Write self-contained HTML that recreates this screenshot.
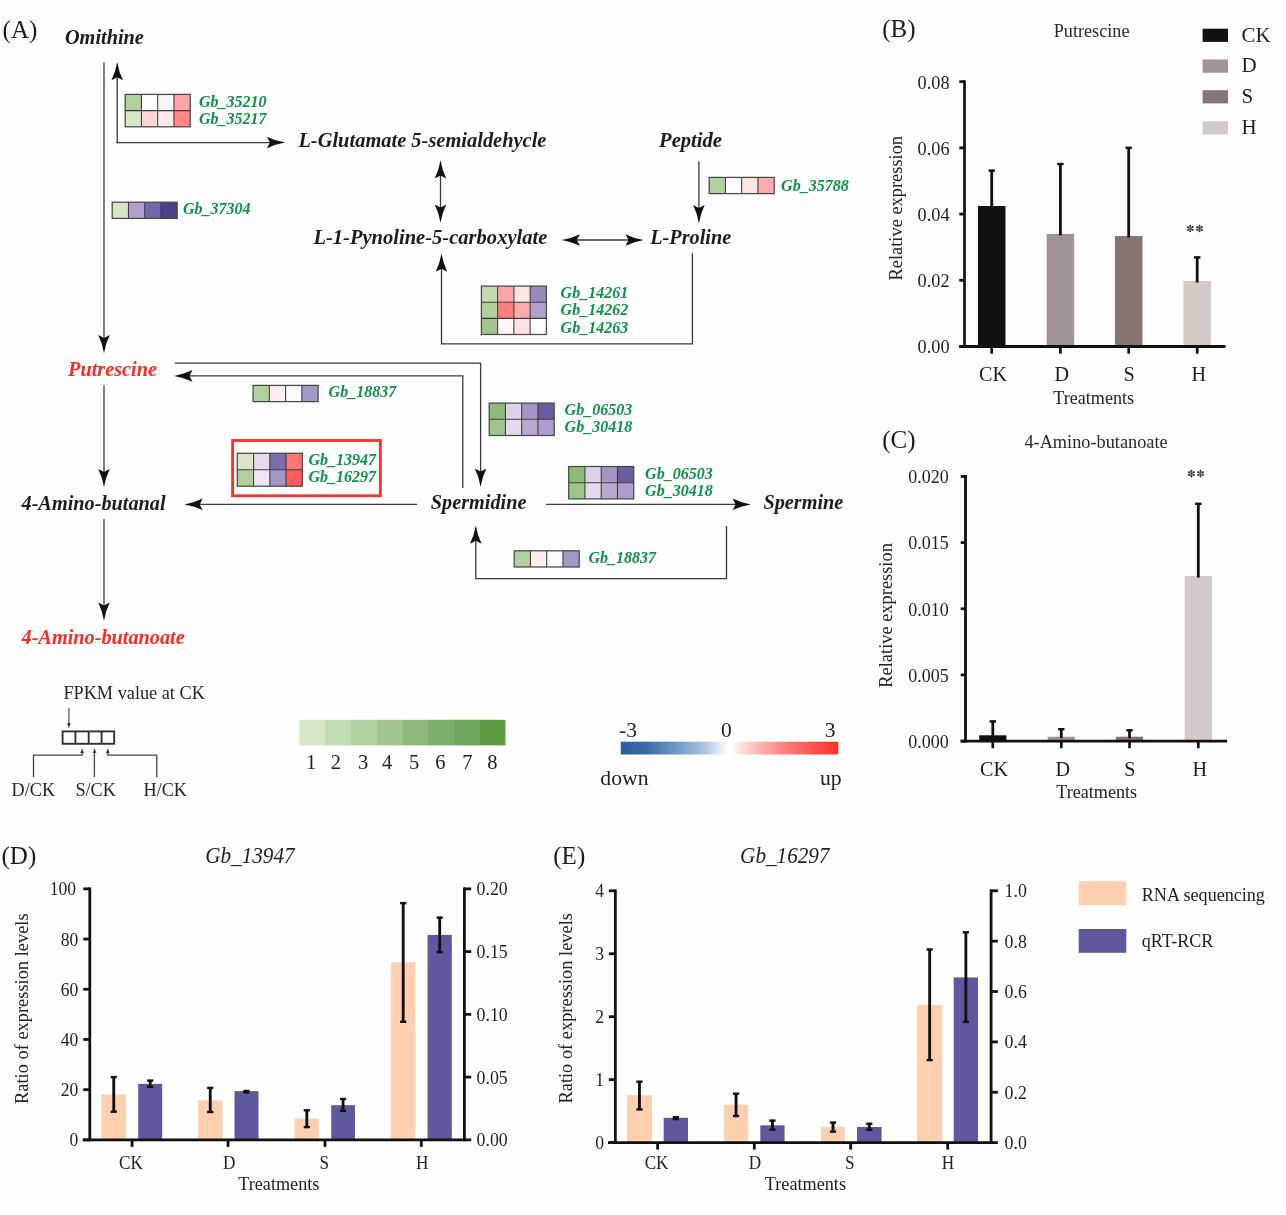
<!DOCTYPE html>
<html><head><meta charset="utf-8"><style>
html,body{margin:0;padding:0;background:#fefefe;}
svg{display:block;font-family:"Liberation Serif", serif;will-change:transform;}
</style></head><body>
<svg width="1286" height="1215" viewBox="0 0 1286 1215">
<rect width="1286" height="1215" fill="#fefefe"/>
<text x="2.6" y="37.9" font-size="25" font-weight="normal" font-style="normal" fill="#1c1c1c" text-anchor="start" >(A)</text>
<text x="65" y="43.8" font-size="20.25" font-weight="bold" font-style="italic" fill="#1c1c1c" text-anchor="start" >Omithine</text>
<line x1="104" y1="62.5" x2="104" y2="346" stroke="#3a3a3a" stroke-width="1.3"/>
<path d="M0,0 Q1.74,10.43 5.8,18.3 L0,15.3 L-5.8,18.3 Q-1.74,10.43 0,0 Z" fill="#111" transform="translate(104.0,353.2) rotate(180)"/>
<line x1="117.2" y1="143.3" x2="117.2" y2="70" stroke="#3a3a3a" stroke-width="1.3"/>
<path d="M0,0 Q1.74,10.43 5.8,18.3 L0,15.3 L-5.8,18.3 Q-1.74,10.43 0,0 Z" fill="#111" transform="translate(117.2,62.0) rotate(0)"/>
<line x1="116.5" y1="142.6" x2="278" y2="142.6" stroke="#3a3a3a" stroke-width="1.3"/>
<path d="M0,0 Q1.74,10.43 5.8,18.3 L0,15.3 L-5.8,18.3 Q-1.74,10.43 0,0 Z" fill="#111" transform="translate(285.2,142.6) rotate(90)"/>
<rect x="125.2" y="94.4" width="16.25" height="16.2" fill="#b0d09c" />
<rect x="141.45" y="94.4" width="16.25" height="16.2" fill="#fefcfd" />
<rect x="157.7" y="94.4" width="16.25" height="16.2" fill="#f8f3f8" />
<rect x="173.95" y="94.4" width="16.25" height="16.2" fill="#fea5a3" />
<rect x="125.2" y="110.6" width="16.25" height="16.2" fill="#d9e6c6" />
<rect x="141.45" y="110.6" width="16.25" height="16.2" fill="#fed4d5" />
<rect x="157.7" y="110.6" width="16.25" height="16.2" fill="#feeaea" />
<rect x="173.95" y="110.6" width="16.25" height="16.2" fill="#fe8988" />
<line x1="141.45" y1="94.4" x2="141.45" y2="126.8" stroke="#3a3a3a" stroke-width="1.05"/>
<line x1="157.7" y1="94.4" x2="157.7" y2="126.8" stroke="#3a3a3a" stroke-width="1.05"/>
<line x1="173.95" y1="94.4" x2="173.95" y2="126.8" stroke="#3a3a3a" stroke-width="1.05"/>
<line x1="125.2" y1="110.6" x2="190.2" y2="110.6" stroke="#3a3a3a" stroke-width="1.05"/>
<rect x="125.2" y="94.4" width="65.0" height="32.4" fill="none" stroke="#484848" stroke-width="1.25"/>
<text x="199" y="107.1" font-size="16" font-weight="bold" font-style="italic" fill="#0a9447" text-anchor="start" >Gb_35210</text>
<text x="199" y="123.9" font-size="16" font-weight="bold" font-style="italic" fill="#0a9447" text-anchor="start" >Gb_35217</text>
<rect x="112.2" y="202.2" width="16.25" height="16.2" fill="#d6e6c5" />
<rect x="128.45" y="202.2" width="16.25" height="16.2" fill="#b0a0cc" />
<rect x="144.7" y="202.2" width="16.25" height="16.2" fill="#7466a8" />
<rect x="160.95" y="202.2" width="16.25" height="16.2" fill="#4f3f8a" />
<line x1="128.45" y1="202.2" x2="128.45" y2="218.4" stroke="#3a3a3a" stroke-width="1.05"/>
<line x1="144.7" y1="202.2" x2="144.7" y2="218.4" stroke="#3a3a3a" stroke-width="1.05"/>
<line x1="160.95" y1="202.2" x2="160.95" y2="218.4" stroke="#3a3a3a" stroke-width="1.05"/>
<rect x="112.2" y="202.2" width="65.0" height="16.2" fill="none" stroke="#484848" stroke-width="1.25"/>
<text x="182.9" y="214.1" font-size="16" font-weight="bold" font-style="italic" fill="#0a9447" text-anchor="start" >Gb_37304</text>
<text x="298.4" y="147.4" font-size="20.45" font-weight="bold" font-style="italic" fill="#1c1c1c" text-anchor="start" >L-Glutamate 5-semialdehycle</text>
<line x1="440.5" y1="168" x2="440.5" y2="216" stroke="#3a3a3a" stroke-width="1.3"/>
<path d="M0,0 Q1.74,10.43 5.8,18.3 L0,15.3 L-5.8,18.3 Q-1.74,10.43 0,0 Z" fill="#111" transform="translate(440.5,160.2) rotate(0)"/>
<path d="M0,0 Q1.74,10.43 5.8,18.3 L0,15.3 L-5.8,18.3 Q-1.74,10.43 0,0 Z" fill="#111" transform="translate(440.5,222.8) rotate(180)"/>
<text x="313.4" y="243.8" font-size="20.55" font-weight="bold" font-style="italic" fill="#1c1c1c" text-anchor="start" >L-1-Pynoline-5-carboxylate</text>
<text x="659.1" y="147.4" font-size="20.6" font-weight="bold" font-style="italic" fill="#1c1c1c" text-anchor="start" >Peptide</text>
<line x1="698.9" y1="161.2" x2="698.9" y2="216" stroke="#3a3a3a" stroke-width="1.3"/>
<path d="M0,0 Q1.74,10.43 5.8,18.3 L0,15.3 L-5.8,18.3 Q-1.74,10.43 0,0 Z" fill="#111" transform="translate(698.9,223.4) rotate(180)"/>
<rect x="709.2" y="177.4" width="16.25" height="16.2" fill="#b0d09c" />
<rect x="725.45" y="177.4" width="16.25" height="16.2" fill="#fefefe" />
<rect x="741.7" y="177.4" width="16.25" height="16.2" fill="#fee6e8" />
<rect x="757.95" y="177.4" width="16.25" height="16.2" fill="#feabab" />
<line x1="725.45" y1="177.4" x2="725.45" y2="193.6" stroke="#3a3a3a" stroke-width="1.05"/>
<line x1="741.7" y1="177.4" x2="741.7" y2="193.6" stroke="#3a3a3a" stroke-width="1.05"/>
<line x1="757.95" y1="177.4" x2="757.95" y2="193.6" stroke="#3a3a3a" stroke-width="1.05"/>
<rect x="709.2" y="177.4" width="65.0" height="16.2" fill="none" stroke="#484848" stroke-width="1.25"/>
<text x="781.1" y="190.6" font-size="16" font-weight="bold" font-style="italic" fill="#0a9447" text-anchor="start" >Gb_35788</text>
<text x="650.2" y="243.8" font-size="20.25" font-weight="bold" font-style="italic" fill="#1c1c1c" text-anchor="start" >L-Proline</text>
<line x1="570" y1="240" x2="636" y2="240" stroke="#3a3a3a" stroke-width="1.3"/>
<path d="M0,0 Q1.74,10.43 5.8,18.3 L0,15.3 L-5.8,18.3 Q-1.74,10.43 0,0 Z" fill="#111" transform="translate(561.6,240.0) rotate(-90)"/>
<path d="M0,0 Q1.74,10.43 5.8,18.3 L0,15.3 L-5.8,18.3 Q-1.74,10.43 0,0 Z" fill="#111" transform="translate(643.8,240.0) rotate(90)"/>
<path d="M692.4,253.2 V343.8 H441.5 V262" stroke="#3a3a3a" stroke-width="1.3" fill="none" />
<path d="M0,0 Q1.74,10.43 5.8,18.3 L0,15.3 L-5.8,18.3 Q-1.74,10.43 0,0 Z" fill="#111" transform="translate(441.5,253.4) rotate(0)"/>
<rect x="481.4" y="286.1" width="16.25" height="16.13" fill="#c2dab2" />
<rect x="497.65" y="286.1" width="16.25" height="16.13" fill="#fea6a6" />
<rect x="513.9" y="286.1" width="16.25" height="16.13" fill="#fee5e6" />
<rect x="530.15" y="286.1" width="16.25" height="16.13" fill="#9689bf" />
<rect x="481.4" y="302.23" width="16.25" height="16.13" fill="#afcf9c" />
<rect x="497.65" y="302.23" width="16.25" height="16.13" fill="#fe7e7e" />
<rect x="513.9" y="302.23" width="16.25" height="16.13" fill="#feacab" />
<rect x="530.15" y="302.23" width="16.25" height="16.13" fill="#afa0cc" />
<rect x="481.4" y="318.36" width="16.25" height="16.13" fill="#a0c48b" />
<rect x="497.65" y="318.36" width="16.25" height="16.13" fill="#fef8f8" />
<rect x="513.9" y="318.36" width="16.25" height="16.13" fill="#fee1e3" />
<rect x="530.15" y="318.36" width="16.25" height="16.13" fill="#ffffff" />
<line x1="497.65" y1="286.1" x2="497.65" y2="334.49" stroke="#3a3a3a" stroke-width="1.05"/>
<line x1="513.9" y1="286.1" x2="513.9" y2="334.49" stroke="#3a3a3a" stroke-width="1.05"/>
<line x1="530.15" y1="286.1" x2="530.15" y2="334.49" stroke="#3a3a3a" stroke-width="1.05"/>
<line x1="481.4" y1="302.23" x2="546.4" y2="302.23" stroke="#3a3a3a" stroke-width="1.05"/>
<line x1="481.4" y1="318.36" x2="546.4" y2="318.36" stroke="#3a3a3a" stroke-width="1.05"/>
<rect x="481.4" y="286.1" width="65.0" height="48.39" fill="none" stroke="#484848" stroke-width="1.25"/>
<text x="560.6" y="297.8" font-size="16" font-weight="bold" font-style="italic" fill="#0a9447" text-anchor="start" >Gb_14261</text>
<text x="560.6" y="315.3" font-size="16" font-weight="bold" font-style="italic" fill="#0a9447" text-anchor="start" >Gb_14262</text>
<text x="560.6" y="332.8" font-size="16" font-weight="bold" font-style="italic" fill="#0a9447" text-anchor="start" >Gb_14263</text>
<text x="68.1" y="375.9" font-size="20.25" font-weight="bold" font-style="italic" fill="#fd2b22" text-anchor="start" >Putrescine</text>
<line x1="104" y1="385.3" x2="104" y2="480" stroke="#3a3a3a" stroke-width="1.3"/>
<path d="M0,0 Q1.74,10.43 5.8,18.3 L0,15.3 L-5.8,18.3 Q-1.74,10.43 0,0 Z" fill="#111" transform="translate(104.0,487.3) rotate(180)"/>
<path d="M174.8,363.1 H480.6 V480" stroke="#3a3a3a" stroke-width="1.3" fill="none" />
<path d="M0,0 Q1.74,10.43 5.8,18.3 L0,15.3 L-5.8,18.3 Q-1.74,10.43 0,0 Z" fill="#111" transform="translate(480.6,486.9) rotate(180)"/>
<path d="M462.8,488 V375.9 H181" stroke="#3a3a3a" stroke-width="1.3" fill="none" />
<path d="M0,0 Q1.74,10.43 5.8,18.3 L0,15.3 L-5.8,18.3 Q-1.74,10.43 0,0 Z" fill="#111" transform="translate(174.2,375.9) rotate(-90)"/>
<rect x="253.1" y="385.4" width="16.25" height="16.2" fill="#b1d29e" />
<rect x="269.35" y="385.4" width="16.25" height="16.2" fill="#fdeeee" />
<rect x="285.6" y="385.4" width="16.25" height="16.2" fill="#fafafa" />
<rect x="301.85" y="385.4" width="16.25" height="16.2" fill="#a598c8" />
<line x1="269.35" y1="385.4" x2="269.35" y2="401.6" stroke="#3a3a3a" stroke-width="1.05"/>
<line x1="285.6" y1="385.4" x2="285.6" y2="401.6" stroke="#3a3a3a" stroke-width="1.05"/>
<line x1="301.85" y1="385.4" x2="301.85" y2="401.6" stroke="#3a3a3a" stroke-width="1.05"/>
<rect x="253.1" y="385.4" width="65.0" height="16.2" fill="none" stroke="#484848" stroke-width="1.25"/>
<text x="328.6" y="396.9" font-size="16" font-weight="bold" font-style="italic" fill="#0a9447" text-anchor="start" >Gb_18837</text>
<rect x="489.2" y="403.1" width="16.25" height="16.2" fill="#8cbb7a" />
<rect x="505.45" y="403.1" width="16.25" height="16.2" fill="#ddd0e7" />
<rect x="521.7" y="403.1" width="16.25" height="16.2" fill="#a494c6" />
<rect x="537.95" y="403.1" width="16.25" height="16.2" fill="#6a5c9f" />
<rect x="489.2" y="419.3" width="16.25" height="16.2" fill="#9ec58b" />
<rect x="505.45" y="419.3" width="16.25" height="16.2" fill="#e4d8ec" />
<rect x="521.7" y="419.3" width="16.25" height="16.2" fill="#b6a9d2" />
<rect x="537.95" y="419.3" width="16.25" height="16.2" fill="#ae9dcc" />
<line x1="505.45" y1="403.1" x2="505.45" y2="435.5" stroke="#3a3a3a" stroke-width="1.05"/>
<line x1="521.7" y1="403.1" x2="521.7" y2="435.5" stroke="#3a3a3a" stroke-width="1.05"/>
<line x1="537.95" y1="403.1" x2="537.95" y2="435.5" stroke="#3a3a3a" stroke-width="1.05"/>
<line x1="489.2" y1="419.3" x2="554.2" y2="419.3" stroke="#3a3a3a" stroke-width="1.05"/>
<rect x="489.2" y="403.1" width="65.0" height="32.4" fill="none" stroke="#484848" stroke-width="1.25"/>
<text x="564.6" y="414.6" font-size="16" font-weight="bold" font-style="italic" fill="#0a9447" text-anchor="start" >Gb_06503</text>
<text x="564.6" y="432.0" font-size="16" font-weight="bold" font-style="italic" fill="#0a9447" text-anchor="start" >Gb_30418</text>
<text x="430.8" y="508.5" font-size="20.25" font-weight="bold" font-style="italic" fill="#1c1c1c" text-anchor="start" >Spermidine</text>
<rect x="232.6" y="440.5" width="147.8" height="55.3" fill="none" stroke="#f7312c" stroke-width="2.8"/>
<rect x="237.3" y="453.3" width="16.25" height="16.45" fill="#d9e6c6" />
<rect x="253.55" y="453.3" width="16.25" height="16.45" fill="#e6d9ea" />
<rect x="269.8" y="453.3" width="16.25" height="16.45" fill="#7b6eaa" />
<rect x="286.05" y="453.3" width="16.25" height="16.45" fill="#ff7774" />
<rect x="237.3" y="469.75" width="16.25" height="16.45" fill="#b0d09c" />
<rect x="253.55" y="469.75" width="16.25" height="16.45" fill="#efe6f3" />
<rect x="269.8" y="469.75" width="16.25" height="16.45" fill="#a395c4" />
<rect x="286.05" y="469.75" width="16.25" height="16.45" fill="#ff5b5b" />
<line x1="253.55" y1="453.3" x2="253.55" y2="486.2" stroke="#3a3a3a" stroke-width="1.05"/>
<line x1="269.8" y1="453.3" x2="269.8" y2="486.2" stroke="#3a3a3a" stroke-width="1.05"/>
<line x1="286.05" y1="453.3" x2="286.05" y2="486.2" stroke="#3a3a3a" stroke-width="1.05"/>
<line x1="237.3" y1="469.75" x2="302.3" y2="469.75" stroke="#3a3a3a" stroke-width="1.05"/>
<rect x="237.3" y="453.3" width="65.0" height="32.9" fill="none" stroke="#484848" stroke-width="1.25"/>
<text x="308.5" y="465.0" font-size="16" font-weight="bold" font-style="italic" fill="#0a9447" text-anchor="start" >Gb_13947</text>
<text x="308.5" y="482.4" font-size="16" font-weight="bold" font-style="italic" fill="#0a9447" text-anchor="start" >Gb_16297</text>
<line x1="417" y1="504.4" x2="191" y2="504.4" stroke="#3a3a3a" stroke-width="1.3"/>
<path d="M0,0 Q1.74,10.43 5.8,18.3 L0,15.3 L-5.8,18.3 Q-1.74,10.43 0,0 Z" fill="#111" transform="translate(184.4,504.4) rotate(-90)"/>
<text x="21.5" y="509.6" font-size="20.25" font-weight="bold" font-style="italic" fill="#1c1c1c" text-anchor="start" >4-Amino-butanal</text>
<line x1="104" y1="519" x2="104" y2="613" stroke="#3a3a3a" stroke-width="1.3"/>
<path d="M0,0 Q1.74,10.43 5.8,18.3 L0,15.3 L-5.8,18.3 Q-1.74,10.43 0,0 Z" fill="#111" transform="translate(104.0,620.7) rotate(180)"/>
<text x="21.5" y="644.3" font-size="20.25" font-weight="bold" font-style="italic" fill="#fd2b22" text-anchor="start" >4-Amino-butanoate</text>
<line x1="546" y1="504.4" x2="744" y2="504.4" stroke="#3a3a3a" stroke-width="1.3"/>
<path d="M0,0 Q1.74,10.43 5.8,18.3 L0,15.3 L-5.8,18.3 Q-1.74,10.43 0,0 Z" fill="#111" transform="translate(750.9,504.4) rotate(90)"/>
<rect x="568.7" y="466.5" width="16.25" height="16.2" fill="#8cbb7a" />
<rect x="584.95" y="466.5" width="16.25" height="16.2" fill="#ddd0e7" />
<rect x="601.2" y="466.5" width="16.25" height="16.2" fill="#a494c6" />
<rect x="617.45" y="466.5" width="16.25" height="16.2" fill="#6a5c9f" />
<rect x="568.7" y="482.7" width="16.25" height="16.2" fill="#9ec58b" />
<rect x="584.95" y="482.7" width="16.25" height="16.2" fill="#e4d8ec" />
<rect x="601.2" y="482.7" width="16.25" height="16.2" fill="#b6a9d2" />
<rect x="617.45" y="482.7" width="16.25" height="16.2" fill="#ae9dcc" />
<line x1="584.95" y1="466.5" x2="584.95" y2="498.9" stroke="#3a3a3a" stroke-width="1.05"/>
<line x1="601.2" y1="466.5" x2="601.2" y2="498.9" stroke="#3a3a3a" stroke-width="1.05"/>
<line x1="617.45" y1="466.5" x2="617.45" y2="498.9" stroke="#3a3a3a" stroke-width="1.05"/>
<line x1="568.7" y1="482.7" x2="633.7" y2="482.7" stroke="#3a3a3a" stroke-width="1.05"/>
<rect x="568.7" y="466.5" width="65.0" height="32.4" fill="none" stroke="#484848" stroke-width="1.25"/>
<text x="645.1" y="478.5" font-size="16" font-weight="bold" font-style="italic" fill="#0a9447" text-anchor="start" >Gb_06503</text>
<text x="645.1" y="496.3" font-size="16" font-weight="bold" font-style="italic" fill="#0a9447" text-anchor="start" >Gb_30418</text>
<text x="763.4" y="509.1" font-size="20.25" font-weight="bold" font-style="italic" fill="#1c1c1c" text-anchor="start" >Spermine</text>
<path d="M726.5,526.1 V578.6 H475.8 V533" stroke="#3a3a3a" stroke-width="1.3" fill="none" />
<path d="M0,0 Q1.74,10.43 5.8,18.3 L0,15.3 L-5.8,18.3 Q-1.74,10.43 0,0 Z" fill="#111" transform="translate(475.8,525.5) rotate(0)"/>
<rect x="514.2" y="550.8" width="16.25" height="16.2" fill="#b1d29e" />
<rect x="530.45" y="550.8" width="16.25" height="16.2" fill="#fdeeee" />
<rect x="546.7" y="550.8" width="16.25" height="16.2" fill="#fafafa" />
<rect x="562.95" y="550.8" width="16.25" height="16.2" fill="#a598c8" />
<line x1="530.45" y1="550.8" x2="530.45" y2="567.0" stroke="#3a3a3a" stroke-width="1.05"/>
<line x1="546.7" y1="550.8" x2="546.7" y2="567.0" stroke="#3a3a3a" stroke-width="1.05"/>
<line x1="562.95" y1="550.8" x2="562.95" y2="567.0" stroke="#3a3a3a" stroke-width="1.05"/>
<rect x="514.2" y="550.8" width="65.0" height="16.2" fill="none" stroke="#484848" stroke-width="1.25"/>
<text x="588.5" y="562.5" font-size="16" font-weight="bold" font-style="italic" fill="#0a9447" text-anchor="start" >Gb_18837</text>
<text x="63.4" y="698.8" font-size="18.25" font-weight="normal" font-style="normal" fill="#2a2020" text-anchor="start" >FPKM value at CK</text>
<line x1="68.9" y1="707.8" x2="68.9" y2="724" stroke="#5a4c48" stroke-width="1.2"/>
<path d="M0,0 Q0.57,3.13 1.9,5.5 L0,5.1 L-1.9,5.5 Q-0.57,3.13 0,0 Z" fill="#2e2222" transform="translate(68.9,728.7) rotate(180)"/>
<rect x="62.6" y="731.4" width="51.6" height="12.4" fill="none" stroke="#3b2e2e" stroke-width="1.9"/>
<line x1="75.4" y1="731.4" x2="75.4" y2="743.8" stroke="#3b2e2e" stroke-width="1.9"/>
<line x1="88.7" y1="731.4" x2="88.7" y2="743.8" stroke="#3b2e2e" stroke-width="1.9"/>
<line x1="101.6" y1="731.4" x2="101.6" y2="743.8" stroke="#3b2e2e" stroke-width="1.9"/>
<path d="M33.5,777.2 V755.1 H82.1 V752" stroke="#4e403c" stroke-width="1.3" fill="none" />
<path d="M0,0 Q0.57,2.85 1.9,5 L0,4.6 L-1.9,5 Q-0.57,2.85 0,0 Z" fill="#2e2222" transform="translate(82.1,748.1) rotate(0)"/>
<path d="M94.4,777.2 V752" stroke="#4e403c" stroke-width="1.3" fill="none" />
<path d="M0,0 Q0.57,2.85 1.9,5 L0,4.6 L-1.9,5 Q-0.57,2.85 0,0 Z" fill="#2e2222" transform="translate(94.6,748.1) rotate(0)"/>
<path d="M156.8,777.2 V755.1 H107.8 V752" stroke="#4e403c" stroke-width="1.3" fill="none" />
<path d="M0,0 Q0.57,2.85 1.9,5 L0,4.6 L-1.9,5 Q-0.57,2.85 0,0 Z" fill="#2e2222" transform="translate(107.8,748.1) rotate(0)"/>
<text x="11.6" y="796.3" font-size="18.2" font-weight="normal" font-style="normal" fill="#2a2020" text-anchor="start" >D/CK</text>
<text x="75.4" y="796.3" font-size="18.2" font-weight="normal" font-style="normal" fill="#2a2020" text-anchor="start" >S/CK</text>
<text x="143.5" y="796.3" font-size="18.2" font-weight="normal" font-style="normal" fill="#2a2020" text-anchor="start" >H/CK</text>
<rect x="299.3" y="719.8" width="26.02" height="25.6" fill="#d8e6c8" />
<text x="0" y="0" transform="translate(311.2,769.0) scale(1,1.04)" font-size="20.5" font-weight="normal" font-style="normal" fill="#222" text-anchor="middle" >1</text>
<rect x="325.02" y="719.8" width="26.02" height="25.6" fill="#c2dcb3" />
<text x="0" y="0" transform="translate(335.8,769.0) scale(1,1.04)" font-size="20.5" font-weight="normal" font-style="normal" fill="#222" text-anchor="middle" >2</text>
<rect x="350.74" y="719.8" width="26.02" height="25.6" fill="#afd09f" />
<text x="0" y="0" transform="translate(363.0,769.0) scale(1,1.04)" font-size="20.5" font-weight="normal" font-style="normal" fill="#222" text-anchor="middle" >3</text>
<rect x="376.46" y="719.8" width="26.02" height="25.6" fill="#a0c68e" />
<text x="0" y="0" transform="translate(387.1,769.0) scale(1,1.04)" font-size="20.5" font-weight="normal" font-style="normal" fill="#222" text-anchor="middle" >4</text>
<rect x="402.18" y="719.8" width="26.02" height="25.6" fill="#8bba7c" />
<text x="0" y="0" transform="translate(414.2,769.0) scale(1,1.04)" font-size="20.5" font-weight="normal" font-style="normal" fill="#222" text-anchor="middle" >5</text>
<rect x="427.9" y="719.8" width="26.02" height="25.6" fill="#7bb06b" />
<text x="0" y="0" transform="translate(440.3,769.0) scale(1,1.04)" font-size="20.5" font-weight="normal" font-style="normal" fill="#222" text-anchor="middle" >6</text>
<rect x="453.62" y="719.8" width="26.02" height="25.6" fill="#6da85c" />
<text x="0" y="0" transform="translate(467.3,769.0) scale(1,1.04)" font-size="20.5" font-weight="normal" font-style="normal" fill="#222" text-anchor="middle" >7</text>
<rect x="479.34" y="719.8" width="26.16" height="25.6" fill="#5f9b43" />
<text x="0" y="0" transform="translate(492.4,769.0) scale(1,1.04)" font-size="20.5" font-weight="normal" font-style="normal" fill="#222" text-anchor="middle" >8</text>
<defs><linearGradient id="rb" x1="0" x2="1" y1="0" y2="0">
<stop offset="0" stop-color="#2c5a9e"/><stop offset="0.12" stop-color="#3b6dab"/><stop offset="0.25" stop-color="#6a98c6"/>
<stop offset="0.38" stop-color="#a9c1dd"/><stop offset="0.47" stop-color="#eef2f8"/><stop offset="0.5" stop-color="#ffffff"/>
<stop offset="0.53" stop-color="#ffeeee"/><stop offset="0.62" stop-color="#ffbcbc"/><stop offset="0.75" stop-color="#ff8080"/>
<stop offset="0.88" stop-color="#ff5350"/><stop offset="1" stop-color="#ff3226"/></linearGradient></defs>
<rect x="620.8" y="741.7" width="217.4" height="12.8" fill="url(#rb)" />
<text x="619.0" y="736.9" font-size="21.5" font-weight="normal" font-style="normal" fill="#222" text-anchor="start" >-3</text>
<text x="726.3" y="736.9" font-size="21.5" font-weight="normal" font-style="normal" fill="#222" text-anchor="middle" >0</text>
<text x="830.1" y="736.9" font-size="21.5" font-weight="normal" font-style="normal" fill="#222" text-anchor="middle" >3</text>
<text x="600.3" y="784.5" font-size="21.7" font-weight="normal" font-style="normal" fill="#222" text-anchor="start" >down</text>
<text x="841.6" y="784.5" font-size="21.7" font-weight="normal" font-style="normal" fill="#222" text-anchor="end" >up</text>
<text x="882.3" y="36.8" font-size="25" font-weight="normal" font-style="normal" fill="#1c1c1c" text-anchor="start" >(B)</text>
<text x="0" y="0" transform="translate(1091.6,37.4) scale(1,1.06)" font-size="18.2" font-weight="normal" font-style="normal" fill="#2a2a2a" text-anchor="middle" >Putrescine</text>
<rect x="1202.6" y="28.7" width="25.4" height="13.2" fill="#111111" />
<text x="1241.4" y="41.5" font-size="21.0" font-weight="normal" font-style="normal" fill="#1c1c1c" text-anchor="start" >CK</text>
<rect x="1202.6" y="59.5" width="25.4" height="13.2" fill="#a09494" />
<text x="1241.4" y="72.3" font-size="21.0" font-weight="normal" font-style="normal" fill="#1c1c1c" text-anchor="start" >D</text>
<rect x="1202.6" y="90.2" width="25.4" height="13.2" fill="#877573" />
<text x="1241.4" y="103.0" font-size="21.0" font-weight="normal" font-style="normal" fill="#1c1c1c" text-anchor="start" >S</text>
<rect x="1202.6" y="121.3" width="25.4" height="13.2" fill="#d5c9c6" />
<text x="1241.4" y="134.1" font-size="21.0" font-weight="normal" font-style="normal" fill="#1c1c1c" text-anchor="start" >H</text>
<line x1="959.3" y1="346.5" x2="964.5" y2="346.5" stroke="#111" stroke-width="2.8"/>
<text x="0" y="0" transform="translate(949.6,353.4) scale(1,1.08)" font-size="18.3" font-weight="normal" font-style="normal" fill="#222" text-anchor="end" >0.00</text>
<line x1="959.3" y1="280.29" x2="964.5" y2="280.29" stroke="#111" stroke-width="2.8"/>
<text x="0" y="0" transform="translate(949.6,287.19) scale(1,1.08)" font-size="18.3" font-weight="normal" font-style="normal" fill="#222" text-anchor="end" >0.02</text>
<line x1="959.3" y1="214.07" x2="964.5" y2="214.07" stroke="#111" stroke-width="2.8"/>
<text x="0" y="0" transform="translate(949.6,220.97) scale(1,1.08)" font-size="18.3" font-weight="normal" font-style="normal" fill="#222" text-anchor="end" >0.04</text>
<line x1="959.3" y1="147.86" x2="964.5" y2="147.86" stroke="#111" stroke-width="2.8"/>
<text x="0" y="0" transform="translate(949.6,154.76) scale(1,1.08)" font-size="18.3" font-weight="normal" font-style="normal" fill="#222" text-anchor="end" >0.06</text>
<line x1="959.3" y1="81.65" x2="964.5" y2="81.65" stroke="#111" stroke-width="2.8"/>
<text x="0" y="0" transform="translate(949.6,88.55) scale(1,1.08)" font-size="18.3" font-weight="normal" font-style="normal" fill="#222" text-anchor="end" >0.08</text>
<rect x="977.95" y="206.0" width="27.5" height="140.5" fill="#111111" />
<line x1="991.7" y1="169.9" x2="991.7" y2="207.5" stroke="#111" stroke-width="2.8"/>
<rect x="988.5" y="169.4" width="6.4" height="2.4" fill="#111" />
<line x1="991.7" y1="346.5" x2="991.7" y2="353.7" stroke="#111" stroke-width="2.7"/>
<rect x="1046.65" y="233.9" width="27.5" height="112.6" fill="#a09494" />
<line x1="1060.4" y1="163.3" x2="1060.4" y2="235.4" stroke="#111" stroke-width="2.8"/>
<rect x="1057.2" y="162.8" width="6.4" height="2.4" fill="#111" />
<line x1="1060.4" y1="346.5" x2="1060.4" y2="353.7" stroke="#111" stroke-width="2.7"/>
<rect x="1114.95" y="236.0" width="27.5" height="110.5" fill="#877573" />
<line x1="1128.7" y1="147.1" x2="1128.7" y2="237.5" stroke="#111" stroke-width="2.8"/>
<rect x="1125.5" y="146.6" width="6.4" height="2.4" fill="#111" />
<line x1="1128.7" y1="346.5" x2="1128.7" y2="353.7" stroke="#111" stroke-width="2.7"/>
<rect x="1183.45" y="281.0" width="27.5" height="65.5" fill="#d5c9c6" />
<line x1="1197.2" y1="256.7" x2="1197.2" y2="282.5" stroke="#111" stroke-width="2.8"/>
<rect x="1194.0" y="256.2" width="6.4" height="2.4" fill="#111" />
<line x1="1197.2" y1="346.5" x2="1197.2" y2="353.7" stroke="#111" stroke-width="2.7"/>
<line x1="964.5" y1="80.2" x2="964.5" y2="347.9" stroke="#111" stroke-width="2.7"/>
<line x1="959.4" y1="346.5" x2="1225.6" y2="346.5" stroke="#111" stroke-width="2.9"/>
<text x="0" y="0" transform="translate(993.0,380.7) scale(1,1.035)" font-size="20.2" font-weight="normal" font-style="normal" fill="#1c1c1c" text-anchor="middle" >CK</text>
<text x="0" y="0" transform="translate(1061.8,380.7) scale(1,1.035)" font-size="20.2" font-weight="normal" font-style="normal" fill="#1c1c1c" text-anchor="middle" >D</text>
<text x="0" y="0" transform="translate(1129.1,380.7) scale(1,1.035)" font-size="20.2" font-weight="normal" font-style="normal" fill="#1c1c1c" text-anchor="middle" >S</text>
<text x="0" y="0" transform="translate(1198.7,380.7) scale(1,1.035)" font-size="20.2" font-weight="normal" font-style="normal" fill="#1c1c1c" text-anchor="middle" >H</text>
<text x="0" y="0" transform="translate(1093.7,404.2) scale(1,1.06)" font-size="18.1" font-weight="normal" font-style="normal" fill="#222" text-anchor="middle" >Treatments</text>
<text x="0" y="0" font-size="18.4" fill="#222" text-anchor="middle" transform="translate(901.9,208.2) rotate(-90) scale(1.0,1)">Relative expression</text>
<path d="M1190.05,228.45 L1189.35,231.3 L1191.25,231.3 L1190.55,228.45 Z" fill="#333" fill-opacity="0.85"/>
<circle cx="1190.3" cy="231.3" r="0.95" fill="#333"/>
<path d="M1190.17,228.23 L1187.36,229.05 L1188.31,230.7 L1190.42,228.67 Z" fill="#333" fill-opacity="0.85"/>
<circle cx="1187.83" cy="229.88" r="0.95" fill="#333"/>
<path d="M1190.42,228.23 L1188.31,226.2 L1187.36,227.85 L1190.17,228.67 Z" fill="#333" fill-opacity="0.85"/>
<circle cx="1187.83" cy="227.02" r="0.95" fill="#333"/>
<path d="M1190.55,228.45 L1191.25,225.6 L1189.35,225.6 L1190.05,228.45 Z" fill="#333" fill-opacity="0.85"/>
<circle cx="1190.3" cy="225.6" r="0.95" fill="#333"/>
<path d="M1190.42,228.67 L1193.24,227.85 L1192.29,226.2 L1190.17,228.23 Z" fill="#333" fill-opacity="0.85"/>
<circle cx="1192.77" cy="227.02" r="0.95" fill="#333"/>
<path d="M1190.17,228.67 L1192.29,230.7 L1193.24,229.05 L1190.42,228.23 Z" fill="#333" fill-opacity="0.85"/>
<circle cx="1192.77" cy="229.88" r="0.95" fill="#333"/>
<path d="M1199.25,228.45 L1198.55,231.3 L1200.45,231.3 L1199.75,228.45 Z" fill="#333" fill-opacity="0.85"/>
<circle cx="1199.5" cy="231.3" r="0.95" fill="#333"/>
<path d="M1199.38,228.23 L1196.56,229.05 L1197.51,230.7 L1199.62,228.67 Z" fill="#333" fill-opacity="0.85"/>
<circle cx="1197.03" cy="229.88" r="0.95" fill="#333"/>
<path d="M1199.62,228.23 L1197.51,226.2 L1196.56,227.85 L1199.38,228.67 Z" fill="#333" fill-opacity="0.85"/>
<circle cx="1197.03" cy="227.02" r="0.95" fill="#333"/>
<path d="M1199.75,228.45 L1200.45,225.6 L1198.55,225.6 L1199.25,228.45 Z" fill="#333" fill-opacity="0.85"/>
<circle cx="1199.5" cy="225.6" r="0.95" fill="#333"/>
<path d="M1199.62,228.67 L1202.44,227.85 L1201.49,226.2 L1199.38,228.23 Z" fill="#333" fill-opacity="0.85"/>
<circle cx="1201.97" cy="227.02" r="0.95" fill="#333"/>
<path d="M1199.38,228.67 L1201.49,230.7 L1202.44,229.05 L1199.62,228.23 Z" fill="#333" fill-opacity="0.85"/>
<circle cx="1201.97" cy="229.88" r="0.95" fill="#333"/>
<text x="882.3" y="448.2" font-size="25" font-weight="normal" font-style="normal" fill="#1c1c1c" text-anchor="start" >(C)</text>
<text x="0" y="0" transform="translate(1096,447.7) scale(1,1.06)" font-size="18.3" font-weight="normal" font-style="normal" fill="#2a2a2a" text-anchor="middle" >4-Amino-butanoate</text>
<line x1="960.7" y1="741.1" x2="965.5" y2="741.1" stroke="#111" stroke-width="2.7"/>
<text x="0" y="0" transform="translate(948.8,747.95) scale(1,1.08)" font-size="18.0" font-weight="normal" font-style="normal" fill="#222" text-anchor="end" >0.000</text>
<line x1="960.7" y1="674.94" x2="965.5" y2="674.94" stroke="#111" stroke-width="2.7"/>
<text x="0" y="0" transform="translate(948.8,681.79) scale(1,1.08)" font-size="18.0" font-weight="normal" font-style="normal" fill="#222" text-anchor="end" >0.005</text>
<line x1="960.7" y1="608.77" x2="965.5" y2="608.77" stroke="#111" stroke-width="2.7"/>
<text x="0" y="0" transform="translate(948.8,615.62) scale(1,1.08)" font-size="18.0" font-weight="normal" font-style="normal" fill="#222" text-anchor="end" >0.010</text>
<line x1="960.7" y1="542.61" x2="965.5" y2="542.61" stroke="#111" stroke-width="2.7"/>
<text x="0" y="0" transform="translate(948.8,549.46) scale(1,1.08)" font-size="18.0" font-weight="normal" font-style="normal" fill="#222" text-anchor="end" >0.015</text>
<line x1="960.7" y1="476.45" x2="965.5" y2="476.45" stroke="#111" stroke-width="2.7"/>
<text x="0" y="0" transform="translate(948.8,483.3) scale(1,1.08)" font-size="18.0" font-weight="normal" font-style="normal" fill="#222" text-anchor="end" >0.020</text>
<rect x="979.2" y="735.3" width="27.2" height="5.8" fill="#111111" />
<line x1="992.8" y1="720.7" x2="992.8" y2="736.8" stroke="#111" stroke-width="2.8"/>
<rect x="989.6" y="720.2" width="6.4" height="2.4" fill="#111" />
<line x1="992.8" y1="741.1" x2="992.8" y2="748.2" stroke="#111" stroke-width="2.7"/>
<rect x="1047.7" y="736.7" width="27.2" height="4.4" fill="#a09494" />
<line x1="1061.3" y1="728.5" x2="1061.3" y2="738.2" stroke="#111" stroke-width="2.8"/>
<rect x="1058.1" y="728.0" width="6.4" height="2.4" fill="#111" />
<line x1="1061.3" y1="741.1" x2="1061.3" y2="748.2" stroke="#111" stroke-width="2.7"/>
<rect x="1115.9" y="736.7" width="27.2" height="4.4" fill="#877573" />
<line x1="1129.5" y1="729.6" x2="1129.5" y2="738.2" stroke="#111" stroke-width="2.8"/>
<rect x="1126.3" y="729.1" width="6.4" height="2.4" fill="#111" />
<line x1="1129.5" y1="741.1" x2="1129.5" y2="748.2" stroke="#111" stroke-width="2.7"/>
<rect x="1184.7" y="576.0" width="27.2" height="165.1" fill="#d5c9c6" />
<line x1="1198.3" y1="503.1" x2="1198.3" y2="577.5" stroke="#111" stroke-width="2.8"/>
<rect x="1195.1" y="502.6" width="6.4" height="2.4" fill="#111" />
<line x1="1198.3" y1="741.1" x2="1198.3" y2="748.2" stroke="#111" stroke-width="2.7"/>
<line x1="965.5" y1="475.1" x2="965.5" y2="742.5" stroke="#111" stroke-width="2.8"/>
<line x1="960.7" y1="741.1" x2="1227.1" y2="741.1" stroke="#111" stroke-width="2.8"/>
<text x="0" y="0" transform="translate(994.1,776.4) scale(1,1.035)" font-size="20.2" font-weight="normal" font-style="normal" fill="#1c1c1c" text-anchor="middle" >CK</text>
<text x="0" y="0" transform="translate(1062.7,776.4) scale(1,1.035)" font-size="20.2" font-weight="normal" font-style="normal" fill="#1c1c1c" text-anchor="middle" >D</text>
<text x="0" y="0" transform="translate(1129.9,776.4) scale(1,1.035)" font-size="20.2" font-weight="normal" font-style="normal" fill="#1c1c1c" text-anchor="middle" >S</text>
<text x="0" y="0" transform="translate(1199.8,776.4) scale(1,1.035)" font-size="20.2" font-weight="normal" font-style="normal" fill="#1c1c1c" text-anchor="middle" >H</text>
<text x="0" y="0" transform="translate(1096.7,798.2) scale(1,1.06)" font-size="18.1" font-weight="normal" font-style="normal" fill="#222" text-anchor="middle" >Treatments</text>
<text x="0" y="0" font-size="18.4" fill="#222" text-anchor="middle" transform="translate(892.2,615.4) rotate(-90) scale(1.0,1)">Relative expression</text>
<path d="M1191.15,473.6 L1190.45,476.45 L1192.35,476.45 L1191.65,473.6 Z" fill="#333" fill-opacity="0.85"/>
<circle cx="1191.4" cy="476.45" r="0.95" fill="#333"/>
<path d="M1191.28,473.38 L1188.46,474.2 L1189.41,475.85 L1191.53,473.82 Z" fill="#333" fill-opacity="0.85"/>
<circle cx="1188.93" cy="475.03" r="0.95" fill="#333"/>
<path d="M1191.53,473.38 L1189.41,471.35 L1188.46,473.0 L1191.28,473.82 Z" fill="#333" fill-opacity="0.85"/>
<circle cx="1188.93" cy="472.18" r="0.95" fill="#333"/>
<path d="M1191.65,473.6 L1192.35,470.75 L1190.45,470.75 L1191.15,473.6 Z" fill="#333" fill-opacity="0.85"/>
<circle cx="1191.4" cy="470.75" r="0.95" fill="#333"/>
<path d="M1191.53,473.82 L1194.34,473.0 L1193.39,471.35 L1191.28,473.38 Z" fill="#333" fill-opacity="0.85"/>
<circle cx="1193.87" cy="472.18" r="0.95" fill="#333"/>
<path d="M1191.28,473.82 L1193.39,475.85 L1194.34,474.2 L1191.53,473.38 Z" fill="#333" fill-opacity="0.85"/>
<circle cx="1193.87" cy="475.03" r="0.95" fill="#333"/>
<path d="M1200.25,473.6 L1199.55,476.45 L1201.45,476.45 L1200.75,473.6 Z" fill="#333" fill-opacity="0.85"/>
<circle cx="1200.5" cy="476.45" r="0.95" fill="#333"/>
<path d="M1200.38,473.38 L1197.56,474.2 L1198.51,475.85 L1200.62,473.82 Z" fill="#333" fill-opacity="0.85"/>
<circle cx="1198.03" cy="475.03" r="0.95" fill="#333"/>
<path d="M1200.62,473.38 L1198.51,471.35 L1197.56,473.0 L1200.38,473.82 Z" fill="#333" fill-opacity="0.85"/>
<circle cx="1198.03" cy="472.18" r="0.95" fill="#333"/>
<path d="M1200.75,473.6 L1201.45,470.75 L1199.55,470.75 L1200.25,473.6 Z" fill="#333" fill-opacity="0.85"/>
<circle cx="1200.5" cy="470.75" r="0.95" fill="#333"/>
<path d="M1200.62,473.82 L1203.44,473.0 L1202.49,471.35 L1200.38,473.38 Z" fill="#333" fill-opacity="0.85"/>
<circle cx="1202.97" cy="472.18" r="0.95" fill="#333"/>
<path d="M1200.38,473.82 L1202.49,475.85 L1203.44,474.2 L1200.62,473.38 Z" fill="#333" fill-opacity="0.85"/>
<circle cx="1202.97" cy="475.03" r="0.95" fill="#333"/>
<text x="1.5" y="864.0" font-size="25" font-weight="normal" font-style="normal" fill="#1c1c1c" text-anchor="start" >(D)</text>
<text x="0" y="0" transform="translate(205.2,862.9) scale(1,1.07)" font-size="21.2" font-weight="normal" font-style="italic" fill="#222" text-anchor="start" >Gb_13947</text>
<line x1="83.3" y1="1139.85" x2="89.8" y2="1139.85" stroke="#111" stroke-width="2.8"/>
<text x="0" y="0" transform="translate(78.3,1146.45) scale(1,1.12)" font-size="17.6" font-weight="normal" font-style="normal" fill="#222" text-anchor="end" >0</text>
<line x1="83.3" y1="1089.65" x2="89.8" y2="1089.65" stroke="#111" stroke-width="2.8"/>
<text x="0" y="0" transform="translate(78.3,1096.25) scale(1,1.12)" font-size="17.6" font-weight="normal" font-style="normal" fill="#222" text-anchor="end" >20</text>
<line x1="83.3" y1="1039.45" x2="89.8" y2="1039.45" stroke="#111" stroke-width="2.8"/>
<text x="0" y="0" transform="translate(78.3,1046.05) scale(1,1.12)" font-size="17.6" font-weight="normal" font-style="normal" fill="#222" text-anchor="end" >40</text>
<line x1="83.3" y1="989.25" x2="89.8" y2="989.25" stroke="#111" stroke-width="2.8"/>
<text x="0" y="0" transform="translate(78.3,995.85) scale(1,1.12)" font-size="17.6" font-weight="normal" font-style="normal" fill="#222" text-anchor="end" >60</text>
<line x1="83.3" y1="939.05" x2="89.8" y2="939.05" stroke="#111" stroke-width="2.8"/>
<text x="0" y="0" transform="translate(78.3,945.65) scale(1,1.12)" font-size="17.6" font-weight="normal" font-style="normal" fill="#222" text-anchor="end" >80</text>
<line x1="83.3" y1="888.85" x2="89.8" y2="888.85" stroke="#111" stroke-width="2.8"/>
<text x="0" y="0" transform="translate(76.1,895.45) scale(1,1.12)" font-size="17.6" font-weight="normal" font-style="normal" fill="#222" text-anchor="end" >100</text>
<line x1="464.4" y1="1139.85" x2="471.2" y2="1139.85" stroke="#111" stroke-width="2.8"/>
<text x="0" y="0" transform="translate(476.6,1146.45) scale(1,1.1)" font-size="17.8" font-weight="normal" font-style="normal" fill="#222" text-anchor="start" >0.00</text>
<line x1="464.4" y1="1077.1" x2="471.2" y2="1077.1" stroke="#111" stroke-width="2.8"/>
<text x="0" y="0" transform="translate(476.6,1083.7) scale(1,1.1)" font-size="17.8" font-weight="normal" font-style="normal" fill="#222" text-anchor="start" >0.05</text>
<line x1="464.4" y1="1014.35" x2="471.2" y2="1014.35" stroke="#111" stroke-width="2.8"/>
<text x="0" y="0" transform="translate(476.6,1020.95) scale(1,1.1)" font-size="17.8" font-weight="normal" font-style="normal" fill="#222" text-anchor="start" >0.10</text>
<line x1="464.4" y1="951.6" x2="471.2" y2="951.6" stroke="#111" stroke-width="2.8"/>
<text x="0" y="0" transform="translate(476.6,958.2) scale(1,1.1)" font-size="17.8" font-weight="normal" font-style="normal" fill="#222" text-anchor="start" >0.15</text>
<line x1="464.4" y1="888.85" x2="471.2" y2="888.85" stroke="#111" stroke-width="2.8"/>
<text x="0" y="0" transform="translate(476.6,895.45) scale(1,1.1)" font-size="17.8" font-weight="normal" font-style="normal" fill="#222" text-anchor="start" >0.20</text>
<rect x="101.5" y="1094.4" width="24.5" height="45.45" fill="#fed0b0" />
<rect x="138.2" y="1083.9" width="24.0" height="55.95" fill="#5e589d" />
<rect x="198.0" y="1100.3" width="24.5" height="39.55" fill="#fed0b0" />
<rect x="234.5" y="1091.1" width="24.0" height="48.75" fill="#5e589d" />
<rect x="294.8" y="1118.7" width="24.0" height="21.15" fill="#fed0b0" />
<rect x="331.2" y="1105.2" width="23.8" height="34.65" fill="#5e589d" />
<rect x="391.1" y="962.3" width="24.2" height="177.55" fill="#fed0b0" />
<rect x="427.6" y="934.9" width="24.2" height="204.95" fill="#5e589d" />
<line x1="113.75" y1="1076.4" x2="113.75" y2="1112.3999999999999" stroke="#111" stroke-width="2.85"/>
<rect x="110.65" y="1075.9" width="6.2" height="2.4" fill="#111" />
<rect x="110.65" y="1110.5" width="6.2" height="2.4" fill="#111" />
<line x1="150.2" y1="1079.9" x2="150.2" y2="1087.5" stroke="#111" stroke-width="2.85"/>
<rect x="147.1" y="1079.4" width="6.2" height="2.4" fill="#111" />
<rect x="147.1" y="1085.6" width="6.2" height="2.4" fill="#111" />
<line x1="210.25" y1="1087.2" x2="210.25" y2="1112.6999999999998" stroke="#111" stroke-width="2.85"/>
<rect x="207.15" y="1086.7" width="6.2" height="2.4" fill="#111" />
<rect x="207.15" y="1110.8" width="6.2" height="2.4" fill="#111" />
<line x1="246.5" y1="1090.3" x2="246.5" y2="1093.1" stroke="#111" stroke-width="2.85"/>
<rect x="243.4" y="1089.8" width="6.2" height="2.4" fill="#111" />
<rect x="243.4" y="1091.2" width="6.2" height="2.4" fill="#111" />
<line x1="306.8" y1="1109.6" x2="306.8" y2="1127.8" stroke="#111" stroke-width="2.85"/>
<rect x="303.7" y="1109.1" width="6.2" height="2.4" fill="#111" />
<rect x="303.7" y="1125.9" width="6.2" height="2.4" fill="#111" />
<line x1="343.1" y1="1098.3" x2="343.1" y2="1111.5" stroke="#111" stroke-width="2.85"/>
<rect x="340.0" y="1097.8" width="6.2" height="2.4" fill="#111" />
<rect x="340.0" y="1109.6" width="6.2" height="2.4" fill="#111" />
<line x1="403.2" y1="902.4" x2="403.2" y2="1022.5" stroke="#111" stroke-width="2.85"/>
<rect x="400.1" y="901.9" width="6.2" height="2.4" fill="#111" />
<rect x="400.1" y="1020.6" width="6.2" height="2.4" fill="#111" />
<line x1="439.7" y1="916.9" x2="439.7" y2="952.9" stroke="#111" stroke-width="2.85"/>
<rect x="436.6" y="916.4" width="6.2" height="2.4" fill="#111" />
<rect x="436.6" y="951.0" width="6.2" height="2.4" fill="#111" />
<line x1="89.8" y1="887.45" x2="89.8" y2="1141.25" stroke="#111" stroke-width="2.8"/>
<line x1="464.4" y1="887.45" x2="464.4" y2="1141.25" stroke="#111" stroke-width="2.8"/>
<line x1="82.7" y1="1139.85" x2="464.4" y2="1139.85" stroke="#111" stroke-width="2.9"/>
<line x1="132.1" y1="1139.85" x2="132.1" y2="1146.85" stroke="#111" stroke-width="2.8"/>
<text x="0" y="0" transform="translate(130.9,1169.3) scale(1,1.06)" font-size="17.2" font-weight="normal" font-style="normal" fill="#222" text-anchor="middle" >CK</text>
<line x1="228.1" y1="1139.85" x2="228.1" y2="1146.85" stroke="#111" stroke-width="2.8"/>
<text x="0" y="0" transform="translate(229.3,1169.3) scale(1,1.06)" font-size="17.2" font-weight="normal" font-style="normal" fill="#222" text-anchor="middle" >D</text>
<line x1="325.0" y1="1139.85" x2="325.0" y2="1146.85" stroke="#111" stroke-width="2.8"/>
<text x="0" y="0" transform="translate(324.3,1169.3) scale(1,1.06)" font-size="17.2" font-weight="normal" font-style="normal" fill="#222" text-anchor="middle" >S</text>
<line x1="421.3" y1="1139.85" x2="421.3" y2="1146.85" stroke="#111" stroke-width="2.8"/>
<text x="0" y="0" transform="translate(422.1,1169.3) scale(1,1.06)" font-size="17.2" font-weight="normal" font-style="normal" fill="#222" text-anchor="middle" >H</text>
<text x="0" y="0" transform="translate(278.8,1189.7) scale(1,1.06)" font-size="18.2" font-weight="normal" font-style="normal" fill="#222" text-anchor="middle" >Treatments</text>
<text x="0" y="0" font-size="18.4" fill="#222" text-anchor="middle" transform="translate(28.4,1008.7) rotate(-90) scale(1.0,1)">Ratio of expression levels</text>
<text x="553.3" y="864.0" font-size="25" font-weight="normal" font-style="normal" fill="#1c1c1c" text-anchor="start" >(E)</text>
<text x="0" y="0" transform="translate(740.1,862.9) scale(1,1.07)" font-size="21.2" font-weight="normal" font-style="italic" fill="#222" text-anchor="start" >Gb_16297</text>
<line x1="608.85" y1="1142.6" x2="615.35" y2="1142.6" stroke="#111" stroke-width="2.8"/>
<text x="0" y="0" transform="translate(604.0,1149.2) scale(1,1.12)" font-size="17.6" font-weight="normal" font-style="normal" fill="#222" text-anchor="end" >0</text>
<line x1="608.85" y1="1079.65" x2="615.35" y2="1079.65" stroke="#111" stroke-width="2.8"/>
<text x="0" y="0" transform="translate(604.0,1086.25) scale(1,1.12)" font-size="17.6" font-weight="normal" font-style="normal" fill="#222" text-anchor="end" >1</text>
<line x1="608.85" y1="1016.7" x2="615.35" y2="1016.7" stroke="#111" stroke-width="2.8"/>
<text x="0" y="0" transform="translate(604.0,1023.3) scale(1,1.12)" font-size="17.6" font-weight="normal" font-style="normal" fill="#222" text-anchor="end" >2</text>
<line x1="608.85" y1="953.75" x2="615.35" y2="953.75" stroke="#111" stroke-width="2.8"/>
<text x="0" y="0" transform="translate(604.0,960.35) scale(1,1.12)" font-size="17.6" font-weight="normal" font-style="normal" fill="#222" text-anchor="end" >3</text>
<line x1="608.85" y1="890.8" x2="615.35" y2="890.8" stroke="#111" stroke-width="2.8"/>
<text x="0" y="0" transform="translate(604.0,897.4) scale(1,1.12)" font-size="17.6" font-weight="normal" font-style="normal" fill="#222" text-anchor="end" >4</text>
<line x1="991.1" y1="1142.6" x2="997.9" y2="1142.6" stroke="#111" stroke-width="2.8"/>
<text x="0" y="0" transform="translate(1004.6,1149.2) scale(1,1.1)" font-size="17.8" font-weight="normal" font-style="normal" fill="#222" text-anchor="start" >0.0</text>
<line x1="991.1" y1="1092.24" x2="997.9" y2="1092.24" stroke="#111" stroke-width="2.8"/>
<text x="0" y="0" transform="translate(1004.6,1098.84) scale(1,1.1)" font-size="17.8" font-weight="normal" font-style="normal" fill="#222" text-anchor="start" >0.2</text>
<line x1="991.1" y1="1041.88" x2="997.9" y2="1041.88" stroke="#111" stroke-width="2.8"/>
<text x="0" y="0" transform="translate(1004.6,1048.48) scale(1,1.1)" font-size="17.8" font-weight="normal" font-style="normal" fill="#222" text-anchor="start" >0.4</text>
<line x1="991.1" y1="991.52" x2="997.9" y2="991.52" stroke="#111" stroke-width="2.8"/>
<text x="0" y="0" transform="translate(1004.6,998.12) scale(1,1.1)" font-size="17.8" font-weight="normal" font-style="normal" fill="#222" text-anchor="start" >0.6</text>
<line x1="991.1" y1="941.16" x2="997.9" y2="941.16" stroke="#111" stroke-width="2.8"/>
<text x="0" y="0" transform="translate(1004.6,947.76) scale(1,1.1)" font-size="17.8" font-weight="normal" font-style="normal" fill="#222" text-anchor="start" >0.8</text>
<line x1="991.1" y1="890.8" x2="997.9" y2="890.8" stroke="#111" stroke-width="2.8"/>
<text x="0" y="0" transform="translate(1004.6,897.4) scale(1,1.1)" font-size="17.8" font-weight="normal" font-style="normal" fill="#222" text-anchor="start" >1.0</text>
<rect x="627.0" y="1095.2" width="24.9" height="47.4" fill="#fed0b0" />
<rect x="663.7" y="1117.8" width="24.3" height="24.8" fill="#5e589d" />
<rect x="723.9" y="1104.7" width="24.3" height="37.9" fill="#fed0b0" />
<rect x="760.3" y="1125.3" width="24.3" height="17.3" fill="#5e589d" />
<rect x="821.0" y="1126.9" width="24.0" height="15.7" fill="#fed0b0" />
<rect x="857.0" y="1127.0" width="24.6" height="15.6" fill="#5e589d" />
<rect x="917.1" y="1004.8" width="25.1" height="137.8" fill="#fed0b0" />
<rect x="953.7" y="977.4" width="24.3" height="165.2" fill="#5e589d" />
<line x1="639.45" y1="1081.0" x2="639.45" y2="1110.1" stroke="#111" stroke-width="2.85"/>
<rect x="636.35" y="1080.5" width="6.2" height="2.4" fill="#111" />
<rect x="636.35" y="1108.2" width="6.2" height="2.4" fill="#111" />
<line x1="675.85" y1="1116.4" x2="675.85" y2="1119.8" stroke="#111" stroke-width="2.85"/>
<rect x="672.75" y="1115.9" width="6.2" height="2.4" fill="#111" />
<rect x="672.75" y="1117.9" width="6.2" height="2.4" fill="#111" />
<line x1="736.05" y1="1093.0" x2="736.05" y2="1116.6999999999998" stroke="#111" stroke-width="2.85"/>
<rect x="732.95" y="1092.5" width="6.2" height="2.4" fill="#111" />
<rect x="732.95" y="1114.8" width="6.2" height="2.4" fill="#111" />
<line x1="772.45" y1="1119.9" x2="772.45" y2="1130.3" stroke="#111" stroke-width="2.85"/>
<rect x="769.35" y="1119.4" width="6.2" height="2.4" fill="#111" />
<rect x="769.35" y="1128.4" width="6.2" height="2.4" fill="#111" />
<line x1="833.0" y1="1121.9" x2="833.0" y2="1132.3" stroke="#111" stroke-width="2.85"/>
<rect x="829.9" y="1121.4" width="6.2" height="2.4" fill="#111" />
<rect x="829.9" y="1130.4" width="6.2" height="2.4" fill="#111" />
<line x1="869.3" y1="1123.0" x2="869.3" y2="1130.3999999999999" stroke="#111" stroke-width="2.85"/>
<rect x="866.2" y="1122.5" width="6.2" height="2.4" fill="#111" />
<rect x="866.2" y="1128.5" width="6.2" height="2.4" fill="#111" />
<line x1="929.65" y1="948.8" x2="929.65" y2="1060.8" stroke="#111" stroke-width="2.85"/>
<rect x="926.55" y="948.3" width="6.2" height="2.4" fill="#111" />
<rect x="926.55" y="1058.9" width="6.2" height="2.4" fill="#111" />
<line x1="965.85" y1="931.6" x2="965.85" y2="1022.6" stroke="#111" stroke-width="2.85"/>
<rect x="962.75" y="931.1" width="6.2" height="2.4" fill="#111" />
<rect x="962.75" y="1020.7" width="6.2" height="2.4" fill="#111" />
<line x1="615.35" y1="889.4" x2="615.35" y2="1144.0" stroke="#111" stroke-width="2.8"/>
<line x1="991.1" y1="889.4" x2="991.1" y2="1144.0" stroke="#111" stroke-width="2.8"/>
<line x1="608.0" y1="1142.6" x2="991.1" y2="1142.6" stroke="#111" stroke-width="2.9"/>
<line x1="657.6" y1="1142.6" x2="657.6" y2="1149.6" stroke="#111" stroke-width="2.8"/>
<text x="0" y="0" transform="translate(656.6,1169.3) scale(1,1.06)" font-size="17.2" font-weight="normal" font-style="normal" fill="#222" text-anchor="middle" >CK</text>
<line x1="754.3" y1="1142.6" x2="754.3" y2="1149.6" stroke="#111" stroke-width="2.8"/>
<text x="0" y="0" transform="translate(755.0,1169.3) scale(1,1.06)" font-size="17.2" font-weight="normal" font-style="normal" fill="#222" text-anchor="middle" >D</text>
<line x1="850.7" y1="1142.6" x2="850.7" y2="1149.6" stroke="#111" stroke-width="2.8"/>
<text x="0" y="0" transform="translate(849.9,1169.3) scale(1,1.06)" font-size="17.2" font-weight="normal" font-style="normal" fill="#222" text-anchor="middle" >S</text>
<line x1="947.7" y1="1142.6" x2="947.7" y2="1149.6" stroke="#111" stroke-width="2.8"/>
<text x="0" y="0" transform="translate(948.0,1169.3) scale(1,1.06)" font-size="17.2" font-weight="normal" font-style="normal" fill="#222" text-anchor="middle" >H</text>
<text x="0" y="0" transform="translate(805.4,1189.7) scale(1,1.06)" font-size="18.2" font-weight="normal" font-style="normal" fill="#222" text-anchor="middle" >Treatments</text>
<text x="0" y="0" font-size="18.4" fill="#222" text-anchor="middle" transform="translate(571.6,1008.3) rotate(-90) scale(1.0,1)">Ratio of expression levels</text>
<rect x="1078.7" y="881.2" width="47.6" height="24" fill="#fed0b0" />
<rect x="1078.7" y="929.0" width="47.6" height="23.8" fill="#5e589d" />
<text x="0" y="0" transform="translate(1141.8,900.5) scale(1,1.06)" font-size="18.1" font-weight="normal" font-style="normal" fill="#222" text-anchor="start" >RNA sequencing</text>
<text x="0" y="0" transform="translate(1141.8,946.6) scale(1,1.06)" font-size="18.1" font-weight="normal" font-style="normal" fill="#222" text-anchor="start" >qRT-RCR</text>
</svg></body></html>
